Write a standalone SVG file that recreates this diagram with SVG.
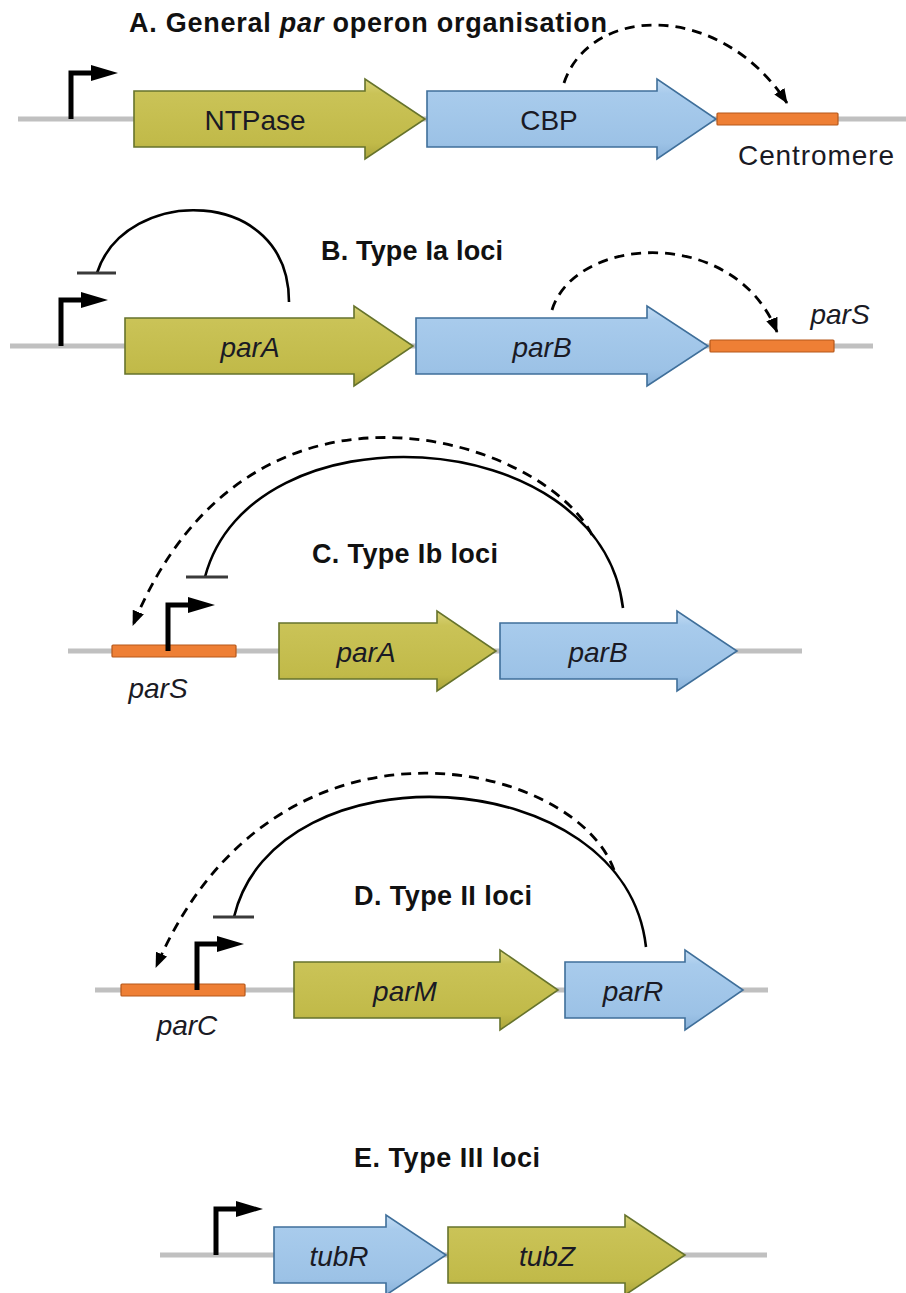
<svg xmlns="http://www.w3.org/2000/svg" width="906" height="1293" viewBox="0 0 906 1293">
  <style>
    .dna { stroke: #c0c0c0; stroke-width: 5; fill: none; }
    .ntp { fill: url(#olive); stroke: #66732c; stroke-width: 1.6; stroke-linejoin: miter; }
    .cbp { fill: url(#blue); stroke: #3f6f9a; stroke-width: 1.6; stroke-linejoin: miter; }
    .site { fill: #ee7f35; stroke: #b5581b; stroke-width: 1.2; }
    .title { font-family: "Liberation Sans", Arial, sans-serif; font-weight: bold; font-size: 27px; fill: #111; text-anchor: middle; }
    .gene { font-family: "Liberation Sans", Arial, sans-serif; font-style: italic; font-size: 28px; fill: #1a1a24; text-anchor: middle; }
    .plain { font-family: "Liberation Sans", Arial, sans-serif; font-size: 28px; fill: #1a1a24; text-anchor: middle; }
    .prom-stem { stroke: #000; stroke-width: 5; fill: none; stroke-linejoin: miter; }
    .prom-head { fill: #000; }
    .repress { stroke: #000; stroke-width: 2.6; fill: none; }
    .tbar { stroke: #3a3a3a; stroke-width: 3; }
    .bind { stroke: #000; stroke-width: 2.8; fill: none; stroke-dasharray: 10 7; marker-end: url(#head); }
  </style>
  <defs>
    <linearGradient id="olive" x1="0" y1="0" x2="0" y2="1">
      <stop offset="0" stop-color="#d9d37a"/>
      <stop offset="0.18" stop-color="#cac357"/>
      <stop offset="0.8" stop-color="#c1ba49"/>
      <stop offset="1" stop-color="#aca53c"/>
    </linearGradient>
    <linearGradient id="blue" x1="0" y1="0" x2="0" y2="1">
      <stop offset="0" stop-color="#c4dcf3"/>
      <stop offset="0.18" stop-color="#a8cbec"/>
      <stop offset="0.8" stop-color="#9cc2e6"/>
      <stop offset="1" stop-color="#89b1d9"/>
    </linearGradient>
    <marker id="head" viewBox="0 0 15 12" refX="14" refY="6" markerWidth="15" markerHeight="12" markerUnits="userSpaceOnUse" orient="auto">
      <path d="M0,0 L15,6 L0,12 Z" fill="#000"/>
    </marker>
    <!-- transcription start: stem rises from the DNA line, bends right, ends in a solid head -->
    <g id="promoter">
      <path class="prom-stem" d="M0,0 V-46 H22"/>
      <path class="prom-head" d="M20,-54 L47,-46 L20,-38 Z"/>
    </g>
  </defs>

  <!-- A. General par operon organisation -->
  <g id="sectionA">
    <text class="title" x="368" y="32" textLength="478">A. General <tspan font-style="italic">par</tspan> operon organisation</text>
    <line class="dna" x1="18" y1="119" x2="906" y2="119"/>
    <g id="A-promoter"><use href="#promoter" x="71" y="119"/></g>
    <g id="A-ntpase">
      <path class="ntp" d="M134,91 H365 V79 L425,119 L365,159 V147 H134 Z"/>
      <text class="plain" x="255" y="130">NTPase</text>
    </g>
    <g id="A-cbp">
      <path class="cbp" d="M427,91 H657 V79 L716,119 L657,159 V147 H427 Z"/>
      <text class="plain" x="549" y="130">CBP</text>
    </g>
    <g id="A-centromere">
      <rect class="site" x="717" y="113" width="121" height="12" rx="1"/>
      <text class="plain" x="816" y="165" textLength="156">Centromere</text>
    </g>
  </g>

  <!-- B. Type Ia loci -->
  <g id="sectionB">
    <text class="title" x="412" y="260" textLength="182">B. Type Ia loci</text>
    <line class="dna" x1="10" y1="346" x2="873" y2="346"/>
    <g id="B-promoter"><use href="#promoter" x="61" y="346"/></g>
    <g id="B-parA">
      <path class="ntp" d="M125,318 H354 V306 L413,346 L354,386 V374 H125 Z"/>
      <text class="gene" x="250" y="357">parA</text>
    </g>
    <g id="B-parB">
      <path class="cbp" d="M416,318 H647 V306 L708,346 L647,386 V374 H416 Z"/>
      <text class="gene" x="542" y="357">parB</text>
    </g>
    <g id="B-parS">
      <rect class="site" x="710" y="340" width="124" height="12" rx="1"/>
      <text class="gene" x="840" y="324">parS</text>
    </g>
  </g>

  <!-- C. Type Ib loci -->
  <g id="sectionC">
    <text class="title" x="405" y="563" textLength="186">C. Type Ib loci</text>
    <line class="dna" x1="68" y1="651" x2="802" y2="651"/>
    <g id="C-parS">
      <rect class="site" x="112" y="645" width="124" height="12" rx="1"/>
      <text class="gene" x="158" y="698">parS</text>
    </g>
    <g id="C-promoter"><use href="#promoter" x="168" y="651"/></g>
    <g id="C-parA">
      <path class="ntp" d="M279,623 H437 V611 L496,651 L437,691 V679 H279 Z"/>
      <text class="gene" x="366" y="662">parA</text>
    </g>
    <g id="C-parB">
      <path class="cbp" d="M500,623 H677 V611 L737,651 L677,691 V679 H500 Z"/>
      <text class="gene" x="598" y="662">parB</text>
    </g>
  </g>

  <!-- D. Type II loci -->
  <g id="sectionD">
    <text class="title" x="443" y="905" textLength="178">D. Type II loci</text>
    <line class="dna" x1="95" y1="990" x2="768" y2="990"/>
    <g id="D-parC">
      <rect class="site" x="121" y="984" width="124" height="12" rx="1"/>
      <text class="gene" x="187" y="1035">parC</text>
    </g>
    <g id="D-promoter"><use href="#promoter" x="197" y="990"/></g>
    <g id="D-parM">
      <path class="ntp" d="M294,962 H500 V950 L558,990 L500,1030 V1018 H294 Z"/>
      <text class="gene" x="405" y="1001">parM</text>
    </g>
    <g id="D-parR">
      <path class="cbp" d="M565,962 H685 V950 L743,990 L685,1030 V1018 H565 Z"/>
      <text class="gene" x="633" y="1001">parR</text>
    </g>
  </g>

  <!-- E. Type III loci -->
  <g id="sectionE">
    <text class="title" x="447" y="1167" textLength="186">E. Type III loci</text>
    <line class="dna" x1="160" y1="1255" x2="767" y2="1255"/>
    <g id="E-promoter"><use href="#promoter" x="216" y="1255"/></g>
    <g id="E-tubR">
      <path class="cbp" d="M274,1227 H386 V1215 L446,1255 L386,1295 V1283 H274 Z"/>
      <text class="gene" x="339" y="1266">tubR</text>
    </g>
    <g id="E-tubZ">
      <path class="ntp" d="M448,1227 H625 V1215 L685,1255 L625,1295 V1283 H448 Z"/>
      <text class="gene" x="547" y="1266">tubZ</text>
    </g>
  </g>

  <!-- regulatory connectors -->
  <g id="connectors">
    <!-- A: CBP binds the centromere -->
    <path class="bind" d="M564,83 C590,5 720,0 787,103"/>
    <!-- B: ParA represses its own promoter; ParB binds parS -->
    <path class="repress" d="M289,302 C289,185 125,185 97,273"/>
    <line class="tbar" x1="77" y1="273" x2="116" y2="273"/>
    <path class="bind" d="M552,310 C575,235 735,225 777,332"/>
    <!-- C: ParB represses the promoter and binds parS -->
    <path class="repress" d="M623,608 C600,420 250,405 205,577"/>
    <line class="tbar" x1="186" y1="577" x2="228" y2="577"/>
    <path class="bind" d="M592,535 C545,440 250,340 133,625"/>
    <!-- D: ParR represses the promoter and binds parC -->
    <path class="repress" d="M646,947 C625,760 275,745 234,917"/>
    <line class="tbar" x1="213" y1="917" x2="254" y2="917"/>
    <path class="bind" d="M614,870 C575,760 275,690 156,967"/>
  </g>
</svg>
